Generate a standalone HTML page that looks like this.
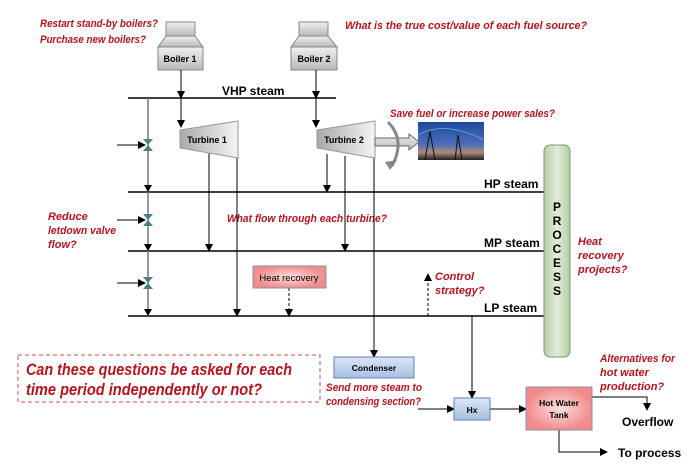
<!DOCTYPE html>
<html><head><meta charset="utf-8"><style>
body{margin:0;background:#fff}
svg{display:block;font-family:"Liberation Sans",sans-serif}
.q{fill:#b3141e;font-weight:bold;font-style:italic;font-size:11px}
.l{font-size:12px;font-weight:bold}
</style></head><body>
<svg width="696" height="475" viewBox="0 0 696 475" xmlns="http://www.w3.org/2000/svg">
<defs>
<marker id="a" markerWidth="8" markerHeight="8" refX="7" refY="4" orient="auto" markerUnits="userSpaceOnUse"><path d="M0,0L8,4L0,8z" fill="#000"/></marker>
<linearGradient id="g" x1="0" y1="0" x2="0" y2="1"><stop offset="0" stop-color="#f0f0f0"/><stop offset="1" stop-color="#b8b8b8"/></linearGradient>
<linearGradient id="tg" x1="0" y1="0" x2="1" y2="0"><stop offset="0" stop-color="#aaa"/><stop offset="1" stop-color="#f4f4f4"/></linearGradient>
<linearGradient id="pg" x1="0" y1="0" x2="1" y2="0"><stop offset="0" stop-color="#b7cda5"/><stop offset=".5" stop-color="#e3ecdb"/><stop offset="1" stop-color="#b7cda5"/></linearGradient>
<radialGradient id="rg"><stop offset="0" stop-color="#fde0e0"/><stop offset="1" stop-color="#f28b8b"/></radialGradient>
<linearGradient id="bg" x1="0" y1="0" x2="0" y2="1"><stop offset="0" stop-color="#dbe5f5"/><stop offset="1" stop-color="#a8bfe4"/></linearGradient>
<linearGradient id="sky" x1="0" y1="0" x2="0" y2="1"><stop offset="0" stop-color="#1e4a9c"/><stop offset=".6" stop-color="#4f6fb8"/><stop offset=".8" stop-color="#b08a7a"/><stop offset="1" stop-color="#222"/></linearGradient>
</defs>
<text class="q" x="40" y="27" textLength="118" lengthAdjust="spacingAndGlyphs">Restart stand-by boilers?</text>
<text class="q" x="40" y="43" textLength="106" lengthAdjust="spacingAndGlyphs">Purchase new boilers?</text>
<text class="q" x="345" y="29" textLength="242" lengthAdjust="spacingAndGlyphs">What is the true cost/value of each fuel source?</text>
<text class="q" x="390" y="117" textLength="165" lengthAdjust="spacingAndGlyphs">Save fuel or increase power sales?</text>
<text class="q" x="48" y="220">Reduce</text>
<text class="q" x="48" y="234" textLength="68" lengthAdjust="spacingAndGlyphs">letdown valve</text>
<text class="q" x="48" y="248">flow?</text>
<text class="q" x="227" y="222" textLength="160" lengthAdjust="spacingAndGlyphs">What flow through each turbine?</text>
<text class="q" x="578" y="245">Heat</text>
<text class="q" x="578" y="259">recovery</text>
<text class="q" x="578" y="273">projects?</text>
<text class="q" x="435" y="280">Control</text>
<text class="q" x="435" y="294">strategy?</text>
<text class="q" x="326" y="391" textLength="96" lengthAdjust="spacingAndGlyphs">Send more steam to</text>
<text class="q" x="326" y="405" textLength="95" lengthAdjust="spacingAndGlyphs">condensing section?</text>
<text class="q" x="600" y="362" textLength="75" lengthAdjust="spacingAndGlyphs">Alternatives for</text>
<text class="q" x="600" y="376">hot water</text>
<text class="q" x="600" y="390">production?</text>
<rect x="18" y="355" width="302" height="47" fill="none" stroke="#c0504d" stroke-dasharray="4,3"/>
<text x="26" y="375" fill="#b3141e" font-weight="bold" font-style="italic" font-size="16.5" textLength="266" lengthAdjust="spacingAndGlyphs">Can these questions be asked for each</text>
<text x="26" y="395" fill="#b3141e" font-weight="bold" font-style="italic" font-size="16.5" textLength="236" lengthAdjust="spacingAndGlyphs">time period independently or not?</text>
<g stroke="#888" stroke-width="1">
<rect x="166" y="22" width="29" height="14" fill="url(#g)"/>
<path d="M166,36L195,36L203,47L158,47z" fill="url(#g)"/>
<rect x="158" y="47" width="45" height="23" fill="url(#g)"/>
<rect x="299" y="22" width="29" height="14" fill="url(#g)"/>
<path d="M299,36L328,36L337,47L291,47z" fill="url(#g)"/>
<rect x="291" y="47" width="46" height="23" fill="url(#g)"/>
</g>
<text x="180" y="62" font-size="9" font-weight="bold" text-anchor="middle">Boiler 1</text>
<text x="314" y="62" font-size="9" font-weight="bold" text-anchor="middle">Boiler 2</text>
<g stroke="#000" stroke-width="1.6">
<line x1="128" y1="98" x2="336" y2="98"/>
<line x1="128" y1="192" x2="545" y2="192"/>
<line x1="128" y1="251" x2="545" y2="251"/>
<line x1="128" y1="316" x2="545" y2="316"/>
</g>
<text x="222" y="95" class="l">VHP steam</text>
<text x="484" y="188" class="l">HP steam</text>
<text x="484" y="247" class="l">MP steam</text>
<text x="484" y="312" class="l">LP steam</text>
<g stroke="#000" stroke-width="1" fill="none" marker-end="url(#a)">
<line x1="181" y1="70" x2="181" y2="98"/>
<line x1="181" y1="98" x2="181" y2="127"/>
<line x1="316" y1="70" x2="316" y2="98"/>
<line x1="316" y1="98" x2="316" y2="127"/>
<line x1="209" y1="152" x2="209" y2="251"/>
<line x1="237" y1="156" x2="237" y2="316"/>
<line x1="327" y1="154" x2="327" y2="192"/>
<line x1="345" y1="156" x2="345" y2="251"/>
<line x1="374" y1="156" x2="374" y2="357"/>
<line x1="117" y1="145" x2="145" y2="145"/>
<line x1="117" y1="220" x2="145" y2="220"/>
<line x1="117" y1="283" x2="145" y2="283"/>
<line x1="472" y1="316" x2="472" y2="398"/>
<line x1="418" y1="409" x2="454" y2="409"/>
<line x1="490" y1="409" x2="526" y2="409"/>
<path d="M592,397H647V410"/>
<path d="M559,430V452H607"/>
</g>
<g stroke="#000" stroke-width="1" fill="none" stroke-dasharray="3,2">
<line x1="289" y1="288" x2="289" y2="316" marker-end="url(#a)"/>
<line x1="428" y1="316" x2="428" y2="274" marker-end="url(#a)"/>
</g>
<line x1="148" y1="98" x2="148" y2="316" stroke="#777" stroke-width="1.5"/>
<g fill="#000"><path d="M144,185L152,185L148,192z"/><path d="M144,244L152,244L148,251z"/><path d="M144,309L152,309L148,316z"/></g>
<g fill="#4f8080">
<path d="M143,139L153,139L148,145z M143,151L153,151L148,145z"/>
<path d="M143,214L153,214L148,220z M143,226L153,226L148,220z"/>
<path d="M143,277L153,277L148,283z M143,289L153,289L148,283z"/>
</g>
<path d="M180,130L238,121L238,158L180,148z" fill="url(#tg)" stroke="#999"/>
<path d="M317,130L375,121L375,158L317,148z" fill="url(#tg)" stroke="#999"/>
<text x="207" y="143" font-size="9" font-weight="bold" text-anchor="middle">Turbine 1</text>
<text x="344" y="143" font-size="9" font-weight="bold" text-anchor="middle">Turbine 2</text>
<path d="M375,138H409V134L419,142L409,150V146H375z" fill="url(#g)" stroke="#666"/>
<path d="M388,122Q406,140 392,166" fill="none" stroke="#888" stroke-width="3"/>
<path d="M385,162L397,160L390,170z" fill="#888"/>
<rect x="418" y="122" width="66" height="38" fill="url(#sky)"/>
<g stroke="#111" stroke-width="1" fill="none"><path d="M425,160L430,131L435,160M455,160L458,135L462,160"/><path d="M418,135Q445,120 484,140" stroke="#6cf" stroke-width=".6"/></g>
<rect x="544" y="145" width="26" height="212" rx="6" fill="url(#pg)" stroke="#7a9a70"/>
<g font-size="12" font-weight="bold" text-anchor="middle">
<text x="557" y="211">P</text><text x="557" y="225">R</text><text x="557" y="239">O</text><text x="557" y="253">C</text><text x="557" y="267">E</text><text x="557" y="281">S</text><text x="557" y="295">S</text>
</g>
<rect x="253" y="266" width="73" height="22" fill="url(#rg)" stroke="#8a8fa8"/>
<text x="289" y="281" font-size="9.5" text-anchor="middle">Heat recovery</text>
<rect x="334" y="357" width="80" height="21" fill="url(#bg)" stroke="#6080b0"/>
<text x="374" y="371" font-size="8.5" font-weight="bold" text-anchor="middle">Condenser</text>
<rect x="454" y="398" width="36" height="22" fill="url(#bg)" stroke="#6080b0"/>
<text x="472" y="413" font-size="8.5" font-weight="bold" text-anchor="middle">Hx</text>
<rect x="526" y="387" width="66" height="43" fill="url(#rg)" stroke="#8a8fa8"/>
<text x="559" y="406" font-size="8.5" font-weight="bold" text-anchor="middle">Hot Water</text>
<text x="559" y="418" font-size="8.5" font-weight="bold" text-anchor="middle">Tank</text>
<text x="622" y="426" class="l">Overflow</text>
<text x="618" y="457" class="l">To process</text>
</svg>
</body></html>
